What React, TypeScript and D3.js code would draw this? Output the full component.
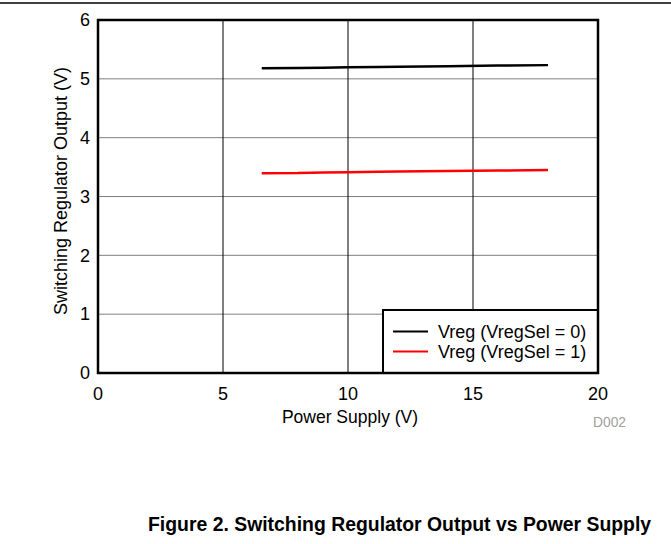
import React from "react";
import * as d3 from "d3";

const supplyV = [6.55, 8, 9, 10, 11.2, 12, 14, 16, 18];
const vregSel0 = [5.182, 5.186, 5.19, 5.195, 5.2, 5.205, 5.215, 5.225, 5.233];
const vregSel1 = [3.395, 3.398, 3.41, 3.413, 3.42, 3.425, 3.433, 3.442, 3.45];
const xTicks = [0, 5, 10, 15, 20];
const yTicks = [0, 1, 2, 3, 4, 5, 6];
const seriesNames = ["Vreg (VregSel = 0)", "Vreg (VregSel = 1)"];
const seriesColors = ["#000000", "#ff0000"];

export default function App() {
  const W = 671, H = 544;
  const left = 98, right = 598, top = 20, bottom = 373;
  const x = d3.scaleLinear().domain([0, 20]).range([left, right]);
  const y = d3.scaleLinear().domain([0, 6]).range([bottom, top]);
  const line = d3.line<number>().x((_, i) => x(supplyV[i])).y((d) => y(d));
  const font = "Arial, 'Liberation Sans', sans-serif";
  const series = [vregSel0, vregSel1];
  const lgX = 383, lgY = 310, lgW = right - 383, lgH = bottom - 310;
  return (
    <svg width={W} height={H} style={{ position: "absolute", left: 0, top: 0 }} fontFamily={font}>
      <rect width={W} height={H} fill="#fff" />
      <line x1={0} x2={W} y1={3} y2={3} stroke="#000" strokeWidth={1.5} />
      {yTicks.slice(1, -1).map((t) => (
        <line key={"h" + t} x1={left} x2={right} y1={y(t)} y2={y(t)} stroke="#808080" strokeWidth={1} />
      ))}
      {xTicks.slice(1, -1).map((t) => (
        <line key={"v" + t} x1={x(t)} x2={x(t)} y1={top} y2={bottom} stroke="#000" strokeWidth={1} />
      ))}
      {series.map((s, i) => (
        <path key={i} d={line(s) || ""} fill="none" stroke={seriesColors[i]} strokeWidth={2.5} />
      ))}
      <rect x={lgX} y={lgY} width={lgW} height={lgH} fill="#fff" stroke="#000" strokeWidth={2} />
      {seriesNames.map((n, i) => (
        <g key={n}>
          <line x1={393} x2={428} y1={331.5 + i * 20} y2={331.5 + i * 20} stroke={seriesColors[i]} strokeWidth={2} />
          <text x={438} y={331.5 + i * 20} dy="0.35em" fontSize={18}>{n}</text>
        </g>
      ))}
      <rect x={left} y={top} width={right - left} height={bottom - top} fill="none" stroke="#000" strokeWidth={2.5} />
      {xTicks.map((t) => (
        <text key={"xt" + t} x={x(t)} y={400} textAnchor="middle" fontSize={18}>{t}</text>
      ))}
      {yTicks.map((t) => (
        <text key={"yt" + t} x={left - 8} y={y(t)} dy="0.35em" textAnchor="end" fontSize={18}>{t}</text>
      ))}
      <text x={350} y={423} textAnchor="middle" fontSize={17.5}>Power Supply (V)</text>
      <text transform={`translate(67,191) rotate(-90)`} textAnchor="middle" fontSize={18}>Switching Regulator Output (V)</text>
      <text x={593} y={427} fontSize={13.8} fill="#a0a0a0">D002</text>
      <text x={148} y={531} fontSize={19.4} fontWeight="bold">Figure 2. Switching Regulator Output vs Power Supply</text>
    </svg>
  );
}
